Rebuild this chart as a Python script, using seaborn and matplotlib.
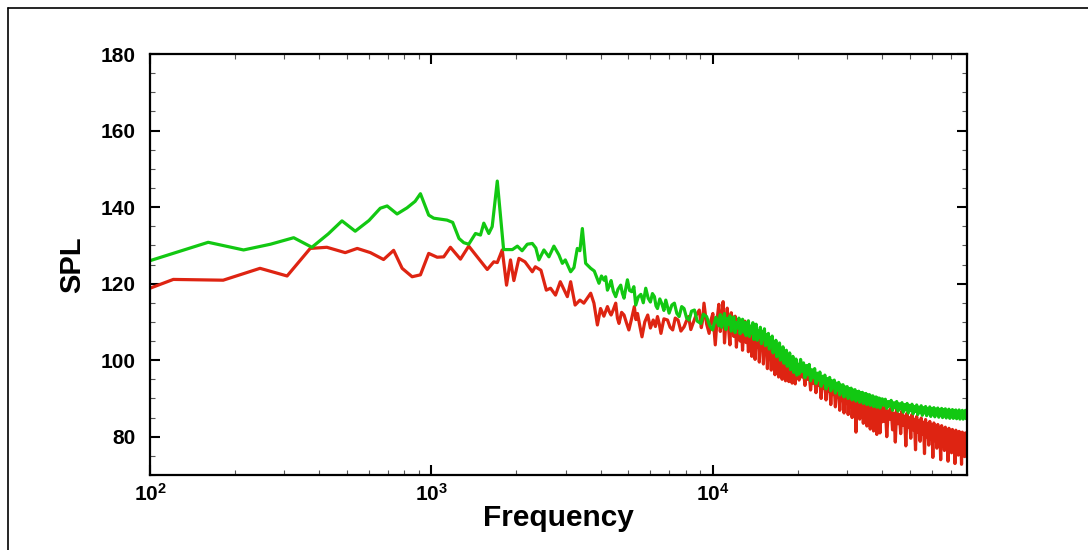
import numpy as np
import pandas as pd
import matplotlib
matplotlib.use("Agg")
import matplotlib.pyplot as plt
from matplotlib.lines import Line2D
from matplotlib.ticker import LogLocator, MultipleLocator, FixedLocator, NullFormatter
import seaborn as sns

# ---------------- data ----------------
green_low_freq = [100, 161, 215, 268, 324, 376, 430, 481, 536, 600, 658, 696, 755, 819, 875, 914,
                  978, 1019, 1136, 1190, 1253, 1303, 1357, 1434, 1494, 1535, 1599, 1644, 1714, 1805,
                  1940, 2020, 2100, 2191, 2283, 2350, 2409, 2510, 2615, 2724, 2838, 2919, 2990, 3124,
                  3210, 3299, 3370, 3438, 3532, 3681, 3790]
green_low_spl = [126.0, 130.8, 128.8, 130.3, 132.0, 129.5, 133.0, 136.4, 133.7, 136.5, 139.7, 140.3,
                 138.2, 139.8, 141.5, 143.5, 137.9, 137.1, 136.6, 136.0, 131.8, 130.7, 130.3, 133.1,
                 132.7, 135.8, 133.1, 134.9, 146.8, 128.9, 128.9, 129.8, 128.6, 130.3, 130.5, 129.3,
                 126.2, 128.8, 127.0, 129.8, 127.5, 125.3, 126.2, 123.1, 124.2, 129.2, 128.6, 134.4,
                 125.3, 124.0, 123.3]

green_mid_freq = [3939, 4020, 4104, 4160, 4221, 4290, 4350, 4430, 4517, 4600,
                  4706, 4770, 4835, 4900, 4971, 5060, 5150, 5240, 5321, 5430,
                  5550, 5660, 5775, 5890, 6000, 6100, 6200, 6280, 6357, 6480,
                  6600, 6700, 6804, 6900, 6991, 7150, 7300, 7450, 7590, 7750,
                  7900, 8070, 8236, 8400, 8600, 8800, 9065, 9250, 9500, 9750,
                  9975, 10250]
green_mid_spl = [120.1, 122.0, 120.9, 121.8, 118.3, 119.5, 120.8, 118.0, 116.6, 118.5,
                 119.6, 117.5, 116.2, 118.6, 121.0, 118.2, 117.9, 119.2, 114.4, 116.5,
                 117.2, 115.0, 118.8, 116.2, 115.2, 117.4, 116.6, 114.2, 113.5, 116.0,
                 114.6, 113.0, 115.7, 114.0, 112.3, 114.4, 114.9, 112.2, 111.4, 114.0,
                 113.5, 111.0, 110.5, 112.8, 113.1, 110.2, 109.6, 112.0, 111.4, 109.0,
                 107.9, 111.2]

red_low_freq = [100, 121, 182, 246, 307, 371, 425, 494, 545, 607, 676, 734, 787, 854, 914, 978,
                1048, 1106, 1168, 1268, 1357, 1454, 1579, 1666, 1714, 1785, 1849, 1910, 1963, 2046,
                2150, 2283, 2340, 2450, 2560, 2650, 2760, 2870, 3041, 3124, 3240, 3370, 3480, 3681,
                3780]
red_low_spl = [118.8, 121.1, 120.9, 124.0, 122.0, 129.2, 129.5, 128.1, 129.2, 128.1, 126.3, 128.7,
               124.0, 121.8, 122.3, 127.9, 126.9, 127.0, 129.5, 126.4, 129.8, 127.0, 123.7, 125.7,
               125.5, 128.8, 119.6, 126.2, 120.8, 126.6, 125.7, 123.1, 124.4, 123.5, 118.3, 118.8,
               117.0, 120.5, 116.6, 120.5, 114.4, 115.7, 114.9, 117.5, 114.9]

red_mid_freq = [3888, 3990, 4100, 4221, 4290, 4350, 4430, 4517, 4580, 4640,
                4740, 4835, 4930, 5030, 5150, 5260, 5330, 5400, 5500, 5600,
                5730, 5870, 6000, 6140, 6250, 6357, 6450, 6540, 6700, 6900,
                7050, 7200, 7350, 7520, 7700, 7900, 8050, 8200, 8350, 8500,
                8700, 8950, 9100, 9200, 9300, 9500, 9700, 9850, 10000, 10100,
                10200, 10350]
red_mid_spl = [109.2, 113.5, 111.5, 114.0, 112.6, 111.8, 113.2, 114.9, 111.0, 109.6,
               112.5, 111.8, 109.8, 107.9, 111.0, 114.0, 110.6, 112.2, 109.0, 106.1,
               110.0, 111.8, 108.4, 110.5, 108.8, 111.4, 109.5, 107.0, 110.8, 110.5,
               108.6, 107.9, 111.0, 110.5, 107.6, 108.7, 110.2, 111.4, 108.0, 109.6,
               111.6, 113.1, 108.5, 110.5, 114.9, 109.5, 107.0, 110.5, 112.2, 108.0,
               104.0, 110.5]

# shared high-frequency bins (Hz)
hf_freq_a = [10500, 10625, 10750, 10875, 11000, 11125, 11250, 11375, 11500, 11625,
             11750, 11875, 12000, 12125, 12250, 12375, 12500, 12625, 12750, 12875,
             13000, 13125, 13250, 13375, 13500, 13625, 13750, 13875, 14000, 14125,
             14250, 14375, 14500, 14625, 14750, 14875, 15000, 15125, 15250, 15375,
             15500, 15625, 15750, 15875, 16000, 16125, 16250, 16375, 16500, 16625,
             16750, 16875, 17000, 17125, 17250, 17375, 17500, 17625, 17750, 17875,
             18000, 18125, 18250, 18375, 18500, 18625, 18750, 18875, 19000, 19125,
             19250, 19375, 19500, 19625, 19750, 19875, 20000]
hf_freq_b = [20250, 20500, 20750, 21000, 21250, 21500, 21750, 22000, 22250, 22500,
             22750, 23000, 23250, 23500, 23750, 24000, 24250, 24500, 24750, 25000,
             25250, 25500, 25750, 26000, 26250, 26500, 26750, 27000, 27250, 27500,
             27750, 28000, 28250, 28500, 28750, 29000, 29250, 29500, 29750, 30000,
             30250, 30500, 30750, 31000, 31250, 31500, 31750, 32000, 32250, 32500,
             32750, 33000, 33250, 33500, 33750, 34000, 34250, 34500, 34750, 35000,
             35250, 35500, 35750, 36000, 36250, 36500, 36750, 37000, 37250, 37500,
             37750, 38000, 38250, 38500, 38750, 39000, 39250, 39500, 39750, 40000]
hf_freq_c = [40500, 41000, 41500, 42000, 42500, 43000, 43500, 44000, 44500, 45000,
             45500, 46000, 46500, 47000, 47500, 48000, 48500, 49000, 49500, 50000,
             50500, 51000, 51500, 52000, 52500, 53000, 53500, 54000, 54500, 55000,
             55500, 56000, 56500, 57000, 57500, 58000, 58500, 59000, 59500, 60000,
             60500, 61000, 61500, 62000, 62500, 63000, 63500, 64000, 64500, 65000,
             65500, 66000, 66500, 67000, 67500, 68000, 68500, 69000, 69500, 70000,
             70500, 71000, 71500, 72000, 72500, 73000, 73500, 74000, 74500, 75000,
             75500, 76000, 76500, 77000, 77500, 78000, 78500, 79000, 79500, 80000]

green_hf_a = [109.0, 111.9, 108.6, 110.6, 112.2, 108.0, 110.9, 109.3, 111.6, 107.6,
              110.4, 111.3, 107.2, 109.8, 108.4, 111.0, 106.9, 109.2, 110.7, 107.3,
              109.9, 106.4, 108.6, 110.3, 106.2, 108.9, 107.0, 109.8, 105.4, 108.2,
              109.4, 105.2, 107.6, 106.0, 108.6, 104.3, 107.4, 105.5, 108.2, 103.8,
              106.6, 104.2, 107.0, 102.9, 105.8, 103.6, 106.3, 101.9, 104.8, 102.5,
              105.2, 100.9, 103.9, 101.6, 104.5, 100.0, 102.8, 100.6, 103.5, 99.2,
              102.1, 99.8, 102.6, 98.4, 101.2, 98.9, 101.9, 97.5, 100.6, 98.2,
              101.0, 96.8, 99.8, 97.4, 100.3, 96.1, 99.0]
green_hf_b = [96.4, 100.2, 97.0, 99.3, 95.4, 98.6, 96.2, 98.9, 94.6, 97.5,
              95.4, 97.8, 93.9, 96.6, 94.8, 96.9, 93.2, 95.8, 94.0, 96.1,
              92.5, 95.2, 93.4, 95.5, 92.0, 94.6, 92.8, 94.8, 91.4, 94.0,
              92.2, 94.2, 90.9, 93.5, 91.7, 93.6, 90.4, 93.0, 91.3, 93.1,
              90.0, 92.6, 90.9, 92.7, 89.6, 92.2, 90.6, 92.3, 89.3, 91.8,
              90.2, 91.9, 89.0, 91.5, 89.9, 91.6, 88.7, 91.2, 89.6, 91.3,
              88.4, 90.9, 89.3, 91.0, 88.2, 90.6, 89.1, 90.7, 87.9, 90.3,
              88.8, 90.4, 87.7, 90.1, 88.6, 90.1, 87.5, 89.8, 88.3, 89.9]
green_hf_c = [88.2, 89.8, 87.4, 89.2, 88.0, 89.5, 86.9, 88.9, 87.6, 89.2,
              86.7, 88.6, 87.3, 88.9, 86.4, 88.4, 87.0, 88.7, 86.2, 88.2,
              86.8, 88.5, 86.0, 87.9, 86.6, 88.3, 85.8, 87.7, 86.4, 88.1,
              85.6, 87.6, 86.2, 87.9, 85.5, 87.4, 86.0, 87.8, 85.3, 87.3,
              85.9, 87.6, 85.2, 87.2, 85.8, 87.5, 85.1, 87.1, 85.7, 87.4,
              85.0, 87.0, 85.6, 87.3, 84.9, 86.9, 85.5, 87.2, 84.8, 86.8,
              85.4, 87.1, 84.8, 86.7, 85.3, 87.0, 84.7, 86.6, 85.2, 87.0,
              84.6, 86.6, 85.1, 86.9, 84.6, 86.5, 85.0, 86.9, 84.7, 85.8]

red_hf_a = [114.6, 107.5, 111.2, 115.3, 104.5, 109.8, 113.6, 108.2, 104.0, 112.4,
            109.0, 106.2, 111.5, 103.4, 108.8, 110.6, 105.0, 109.5, 102.6, 107.8,
            110.2, 104.6, 108.4, 102.2, 107.2, 108.8, 101.0, 106.8, 108.0, 100.2,
            106.2, 103.5, 107.4, 99.5, 105.6, 104.0, 106.8, 99.0, 105.0, 102.5,
            105.6, 97.8, 104.2, 101.5, 104.8, 97.4, 103.0, 100.6, 103.8, 96.2,
            102.0, 99.6, 102.4, 95.6, 101.2, 99.0, 101.8, 95.0, 100.4, 98.2,
            100.8, 94.6, 99.6, 97.6, 100.0, 94.4, 99.0, 97.0, 99.5, 94.0,
            98.6, 96.6, 98.9, 93.8, 98.2, 96.2, 98.5]
red_hf_b = [94.8, 97.8, 95.6, 97.2, 93.4, 96.8, 95.0, 96.5, 92.2, 96.0,
            94.0, 95.6, 91.5, 95.2, 93.4, 94.8, 90.0, 94.4, 92.6, 94.2,
            89.6, 93.6, 92.0, 93.4, 88.4, 93.0, 91.2, 92.8, 87.8, 92.4,
            90.5, 92.2, 86.9, 91.9, 89.8, 91.8, 86.2, 91.4, 89.2, 91.2,
            85.8, 91.0, 88.6, 90.8, 85.0, 90.5, 88.0, 90.4, 81.2, 90.0,
            87.5, 89.8, 84.6, 89.6, 86.8, 89.4, 83.5, 89.2, 86.2, 89.0,
            82.8, 88.9, 85.8, 88.8, 82.0, 88.6, 85.2, 88.5, 81.5, 88.4,
            84.8, 88.2, 80.6, 88.0, 84.2, 87.9, 81.0, 87.8, 83.8, 87.6]
red_hf_c = [84.0, 87.9, 80.0, 86.8, 84.6, 87.6, 81.8, 86.2, 78.6, 87.2,
            83.4, 85.8, 80.8, 86.8, 83.0, 85.4, 77.6, 86.2, 82.4, 85.0,
            79.6, 85.8, 81.8, 84.6, 76.6, 85.3, 81.2, 84.2, 78.8, 84.9,
            80.6, 83.8, 75.6, 84.5, 80.0, 83.4, 77.8, 84.0, 79.5, 83.0,
            74.6, 83.6, 79.0, 82.6, 77.0, 83.2, 78.4, 82.2, 74.0, 82.9,
            78.0, 81.9, 76.4, 82.5, 77.6, 81.6, 73.6, 82.2, 77.2, 81.3,
            75.8, 81.9, 76.8, 81.0, 73.0, 81.7, 76.5, 80.8, 75.2, 81.4,
            76.2, 80.6, 72.8, 81.2, 75.8, 80.4, 74.8, 81.0, 75.5, 78.0]

y_ticks = [80, 100, 120, 140, 160, 180]

# ---------------- table for seaborn ----------------
hf_freq = hf_freq_a + hf_freq_b + hf_freq_c
df = pd.concat([
    pd.DataFrame({"Frequency": red_low_freq + red_mid_freq + hf_freq,
                  "SPL": red_low_spl + red_mid_spl + red_hf_a + red_hf_b + red_hf_c,
                  "case": "red"}),
    pd.DataFrame({"Frequency": green_low_freq + green_mid_freq + hf_freq,
                  "SPL": green_low_spl + green_mid_spl + green_hf_a + green_hf_b + green_hf_c,
                  "case": "green"}),
], ignore_index=True)

# ---------------- style ----------------
sns.set_style("ticks")
plt.rcParams["font.family"] = ["Liberation Sans", "DejaVu Sans"]
plt.rcParams["font.weight"] = "bold"
plt.rcParams["text.color"] = "black"
plt.rcParams["axes.labelcolor"] = "black"
plt.rcParams["xtick.color"] = "black"
plt.rcParams["ytick.color"] = "black"
plt.rcParams["mathtext.fontset"] = "custom"
plt.rcParams["mathtext.rm"] = "Liberation Sans:bold"
plt.rcParams["mathtext.it"] = "Liberation Sans:bold"
plt.rcParams["mathtext.bf"] = "Liberation Sans:bold"
plt.rcParams["mathtext.default"] = "rm"

fig = plt.figure(figsize=(10.88, 5.5), dpi=100)
ax = fig.add_axes([150 / 1088, 1 - 475 / 550, (967 - 150) / 1088, (475 - 54) / 550])

palette = {"red": "#de2412", "green": "#12c812"}
sns.lineplot(data=df, x="Frequency", y="SPL", hue="case", hue_order=["red", "green"],
             palette=palette, estimator=None, sort=False, legend=False, linewidth=2.3, ax=ax)

ax.set_xscale("log")
ax.set_xlim(100, 80000)
ax.set_ylim(70, 180)
ax.yaxis.set_major_locator(FixedLocator(y_ticks))
ax.yaxis.set_minor_locator(MultipleLocator(5))
ax.xaxis.set_major_locator(LogLocator(base=10, numticks=10))
ax.xaxis.set_minor_locator(LogLocator(base=10, subs=np.arange(2, 10), numticks=20))
ax.xaxis.set_minor_formatter(NullFormatter())

for s in ax.spines.values():
    s.set_visible(True)
    s.set_linewidth(1.6)
    s.set_color("black")

ax.tick_params(which="major", direction="in", length=7, width=1.5, top=True, right=True,
               labelsize=15, colors="black")
ax.tick_params(which="minor", direction="in", length=3.5, width=0.8, top=True, right=True,
               colors="#555555")
ax.tick_params(axis="y", which="major", pad=10)
ax.tick_params(axis="x", which="major", pad=6)
for lab in ax.get_yticklabels() + ax.get_xticklabels():
    lab.set_fontweight("bold")

ax.set_xlabel("Frequency", fontsize=21.5, fontweight="bold", labelpad=-1, color="black")
ax.set_ylabel("SPL", fontsize=21, fontweight="bold", labelpad=11, color="black")

# thin frame of the original picture (top and left edges)
fig.add_artist(Line2D([8 / 1088, 1.0], [1 - 8 / 550, 1 - 8 / 550], transform=fig.transFigure,
                      color="black", linewidth=1.2))
fig.add_artist(Line2D([8 / 1088, 8 / 1088], [0.0, 1 - 8 / 550], transform=fig.transFigure,
                      color="black", linewidth=1.2))

fig.savefig("out.png", dpi=100)
